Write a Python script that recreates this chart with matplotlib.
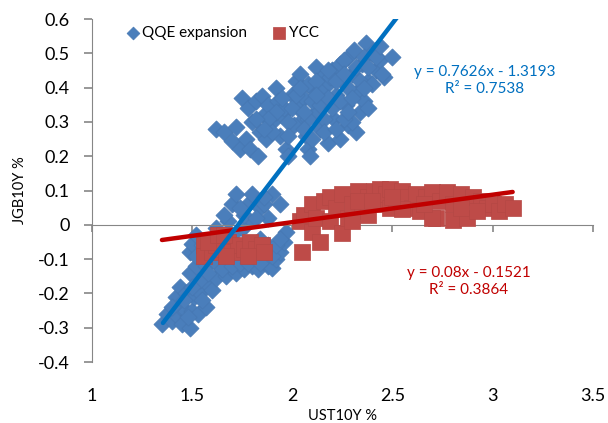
# JGB10Y vs UST10Y scatter: QQE expansion vs YCC periods
import numpy as np
import matplotlib.pyplot as plt

plt.rcParams['font.family'] = ['Lato', 'DejaVu Sans']

# QQE expansion (UST10Y %, JGB10Y %)
qqe_x = [1.62, 1.66, 1.70, 1.72, 1.75, 1.74, 1.77, 1.79, 1.83, 1.80, 1.78, 1.82, 1.85, 1.86,
         1.84, 1.87, 1.88, 1.90, 1.92, 1.93, 1.95, 1.94, 1.97, 1.98, 2.00, 2.02, 2.03, 2.04,
         2.04, 2.06, 2.07, 2.08, 2.10, 2.12, 2.12, 2.14, 2.15, 2.16, 2.18, 2.18, 2.20, 2.21,
         2.22, 2.24, 2.24, 2.25, 2.27, 2.28, 2.28, 2.30, 2.31, 2.32, 2.33, 2.34, 2.35, 2.37,
         2.38, 2.40, 2.42, 2.44, 2.46, 2.50, 2.36, 2.30, 1.96, 2.08, 2.26, 2.19, 2.14, 2.01,
         1.90, 2.45, 2.38, 2.09,
         1.98, 2.00, 2.02, 2.06, 2.08, 2.10, 2.12, 2.14, 2.16, 2.18, 2.20, 2.22, 2.24, 2.26,
         2.26, 2.28, 2.30, 2.32, 2.34, 2.36, 2.38, 2.40, 2.42, 2.44, 2.36, 1.95, 1.92, 1.88,
         1.86, 1.82, 1.98, 2.06, 2.10, 2.16, 2.22, 2.04, 2.18, 2.28, 2.12,
         1.35, 1.375, 1.40, 1.43, 1.45, 1.49, 1.44, 1.47, 1.50, 1.53, 1.57, 1.42, 1.44, 1.47,
         1.51, 1.54, 1.57, 1.60, 1.62, 1.49, 1.52, 1.49, 1.50, 1.52, 1.55, 1.58, 1.60, 1.62,
         1.65, 1.67, 1.68, 1.70, 1.72, 1.72, 1.74, 1.76, 1.77, 1.78, 1.80, 1.82, 1.83, 1.84,
         1.86, 1.86, 1.88, 1.90, 1.90, 1.92, 1.94, 1.94, 1.96, 1.97, 1.88, 1.80, 1.64, 1.70,
         1.75, 1.84, 1.88, 1.57, 1.62, 1.54,
         1.46, 1.50, 1.55, 1.58, 1.65, 1.70, 1.74, 1.78, 1.84, 1.90, 1.92, 1.94, 1.76, 1.82,
         1.86, 1.74, 1.66, 1.52, 1.40, 1.48]
qqe_y = [0.28, 0.27, 0.245, 0.285, 0.37, 0.22, 0.25, 0.22, 0.20, 0.30, 0.34, 0.36, 0.375, 0.32,
         0.27, 0.25, 0.35, 0.30, 0.40, 0.36, 0.32, 0.26, 0.22, 0.20, 0.38, 0.42, 0.34, 0.30,
         0.44, 0.37, 0.26, 0.22, 0.40, 0.46, 0.33, 0.28, 0.43, 0.37, 0.24, 0.41, 0.45, 0.31,
         0.38, 0.25, 0.47, 0.42, 0.35, 0.29, 0.49, 0.44, 0.51, 0.27, 0.39, 0.33, 0.47, 0.53,
         0.42, 0.50, 0.45, 0.48, 0.43, 0.49, 0.36, 0.30, 0.34, 0.31, 0.48, 0.43, 0.39, 0.29,
         0.27, 0.44, 0.34, 0.20,
         0.30, 0.34, 0.38, 0.33, 0.41, 0.36, 0.42, 0.35, 0.31, 0.37, 0.34, 0.42, 0.36, 0.31,
         0.44, 0.40, 0.37, 0.46, 0.42, 0.49, 0.46, 0.41, 0.49, 0.52, 0.40, 0.37, 0.33, 0.31,
         0.28, 0.31, 0.26, 0.28, 0.25, 0.27, 0.28, 0.40, 0.45, 0.33, 0.38,
         -0.29, -0.26, -0.28, -0.27, -0.29, -0.30, -0.24, -0.25, -0.25, -0.26, -0.24, -0.21,
         -0.18, -0.20, -0.21, -0.20, -0.17, -0.19, -0.155, -0.14, -0.12, -0.08, -0.055, -0.03,
         -0.06, -0.09, -0.05, -0.01, -0.105, -0.15, 0.01, 0.06, 0.09, -0.14, -0.07, -0.13,
         0.00, 0.06, -0.12, -0.085, -0.13, 0.05, 0.06, -0.10, -0.12, -0.125, 0.09, -0.10,
         -0.08, 0.06, -0.05, -0.02, 0.02, 0.09, -0.06, -0.03, -0.01, -0.04, -0.06, -0.12,
         -0.11, -0.16,
         -0.22, -0.18, -0.22, -0.14, -0.13, -0.12, -0.11, -0.11, -0.11, -0.09, -0.06, -0.04,
         0.03, 0.02, 0.08, 0.05, 0.03, -0.09, -0.24, -0.27]

# YCC period
ycc_x = [1.56, 1.56, 1.60, 1.62, 1.65, 1.68, 1.70, 1.73, 1.76, 1.79, 1.82, 1.85, 1.86, 1.58,
         1.67, 1.78, 1.63, 1.66,
         2.05, 2.04, 2.06, 2.10, 2.10, 2.14, 2.12, 2.16, 2.19, 2.19, 2.22, 2.25, 2.25, 2.28,
         2.30, 2.33, 2.35, 2.38, 2.41, 2.44, 2.44, 2.47, 2.49, 2.49, 2.52, 2.55, 2.58, 2.60,
         2.62, 2.64, 2.67, 2.70, 2.72, 2.74, 2.77, 2.80, 2.80, 2.84, 2.87, 2.90, 2.94, 2.97,
         3.00, 3.03, 3.06, 3.10, 2.30, 2.38, 2.55, 2.70, 2.92, 2.33, 2.40, 2.50, 2.66, 2.84]
ycc_y = [-0.06, -0.09, -0.08, -0.06, -0.07, -0.05, -0.08, -0.06, -0.07, -0.05, -0.07, -0.06,
         -0.08, -0.05, -0.09, -0.09, -0.03, -0.03,
         -0.08, 0.01, 0.03, 0.06, -0.02, -0.05, 0.02, 0.07, 0.08, 0.01, 0.05, -0.025, 0.09,
         0.02, 0.06, 0.10, 0.04, 0.08, 0.10, 0.105, 0.06, 0.09, 0.105, 0.05, 0.07, 0.10,
         0.08, 0.05, 0.09, 0.04, 0.08, 0.095, 0.02, 0.07, 0.095, 0.015, 0.06, 0.09, 0.02,
         0.08, 0.07, 0.05, 0.06, 0.04, 0.06, 0.05, 0.01, 0.03, 0.045, 0.02, 0.04, 0.07,
         0.07, 0.08, 0.06, 0.05]

# trend lines (from the Excel labels)
qqe_slope, qqe_icpt, qqe_r2 = 0.7626, -1.3193, 0.7538
ycc_slope, ycc_icpt, ycc_r2 = 0.08, -0.1521, 0.3864
qqe_fit_x = np.array([1.355, 2.60])
ycc_fit_x = np.array([1.35, 3.10])

fig = plt.figure(figsize=(6.08, 4.23), dpi=100)
ax = fig.add_axes([0.151, 0.144, 0.824, 0.811])

ax.scatter(qqe_x, qqe_y, marker='D', s=76, color='#4A7EBB', edgecolors='#4677B2',
           linewidths=0.5, label='QQE expansion', zorder=2)
ax.scatter(ycc_x, ycc_y, marker='s', s=130, color='#BE4B48', edgecolors='#B54744',
           linewidths=0.5, label='YCC', zorder=3)
ax.plot(ycc_fit_x, ycc_slope * ycc_fit_x + ycc_icpt, color='#C00000', lw=3.2,
        solid_capstyle='round', zorder=4)
ax.plot(qqe_fit_x, qqe_slope * qqe_fit_x + qqe_icpt, color='#0070C0', lw=3.2,
        solid_capstyle='round', zorder=5)

ax.set_xlim(1, 3.5)
ax.set_ylim(-0.4, 0.6)
ax.set_xticks([1, 1.5, 2, 2.5, 3, 3.5])
ax.set_yticks(np.arange(-0.4, 0.61, 0.1))
ax.set_yticklabels(['-0.4', '-0.3', '-0.2', '-0.1', '0', '0.1', '0.2', '0.3', '0.4', '0.5', '0.6'])

gray = '#868686'
for s in ['top', 'right']:
    ax.spines[s].set_visible(False)
ax.spines['left'].set_color(gray)
ax.spines['bottom'].set_color(gray)
ax.spines['bottom'].set_position(('data', 0))
ax.tick_params(axis='y', colors=gray, labelcolor='black', length=6, width=1.2,
               labelsize=13, pad=10)
ax.tick_params(axis='x', colors=gray, length=5, width=1.2, labelbottom=False)

# x tick labels sit at the bottom of the plot area
sec = ax.secondary_xaxis(0)
sec.set_xticks([1, 1.5, 2, 2.5, 3, 3.5])
sec.set_xticklabels(['1', '1.5', '2', '2.5', '3', '3.5'])
sec.spines['bottom'].set_visible(False)
sec.tick_params(length=0, labelsize=13, pad=19)
sec.set_xlabel('UST10Y %', fontsize=10.5, labelpad=3)
ax.set_ylabel('JGB10Y %', fontsize=10.5, labelpad=8)

ax.legend(loc='upper left', bbox_to_anchor=(0.04, 1.02), ncol=2, frameon=False,
          fontsize=11, markerscale=0.75, handletextpad=0.1, columnspacing=1.6,
          handlelength=1.0)

ax.text(2.96, 0.42, f'y = {qqe_slope}x - {abs(qqe_icpt)}\nR² = {qqe_r2}', color='#0070C0',
        fontsize=11, ha='center', va='center', linespacing=1.25)
ax.text(2.88, -0.165, f'y = {ycc_slope}x - {abs(ycc_icpt)}\nR² = {ycc_r2}', color='#C00000',
        fontsize=11, ha='center', va='center', linespacing=1.25)

fig.savefig('out.png', dpi=100)
